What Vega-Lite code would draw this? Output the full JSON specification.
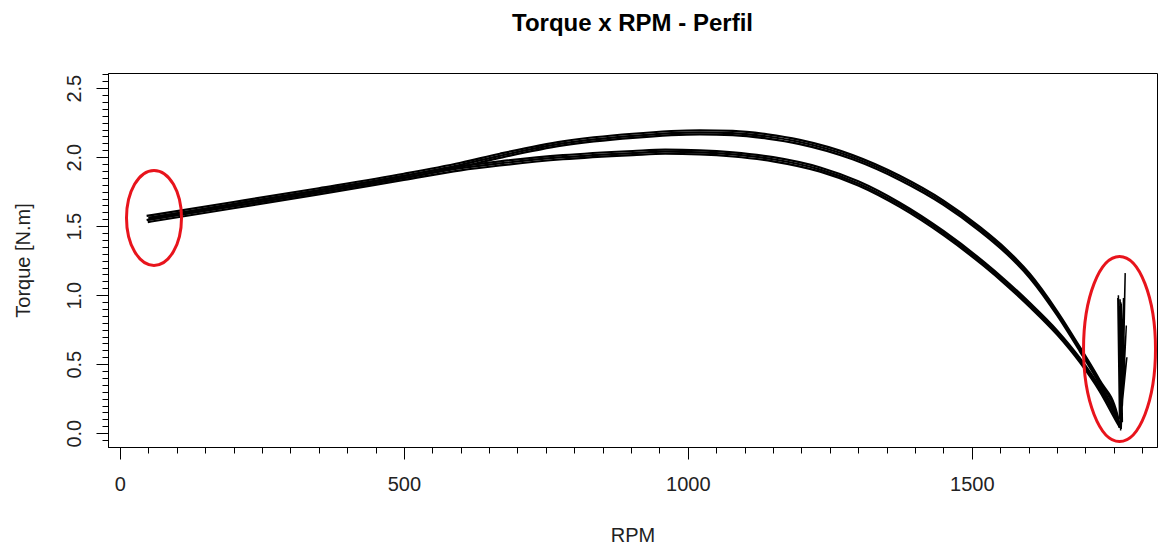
{
  "$schema": "https://vega.github.io/schema/vega-lite/v6.json",
  "width": 1049,
  "height": 374,
  "autosize": {"type": "none"},
  "padding": {"top": 73, "left": 108, "right": 2, "bottom": 100},
  "background": "white",
  "title": {"text": "Torque x RPM - Perfil", "font": "Liberation Sans", "fontSize": 24, "fontWeight": "bold", "color": "black", "anchor": "middle", "offset": 37},
  "config": {"view": {"stroke": "black", "strokeWidth": 1}},
  "datasets": {
    "runs": [
      {"s":"U1","rpm":47,"torque":1.575},{"s":"U1","rpm":200,"torque":1.675},{"s":"U1","rpm":350,"torque":1.775},{"s":"U1","rpm":500,"torque":1.88},{"s":"U1","rpm":600,"torque":1.96},{"s":"U1","rpm":669,"torque":2.025},{"s":"U1","rpm":780,"torque":2.115},{"s":"U1","rpm":903,"torque":2.17},{"s":"U1","rpm":1021,"torque":2.195},{"s":"U1","rpm":1079,"torque":2.19},{"s":"U1","rpm":1140,"torque":2.165},{"s":"U1","rpm":1197,"torque":2.125},{"s":"U1","rpm":1290,"torque":2.015},{"s":"U1","rpm":1373,"torque":1.865},{"s":"U1","rpm":1450,"torque":1.685},{"s":"U1","rpm":1514,"torque":1.495},{"s":"U1","rpm":1560,"torque":1.335},{"s":"U1","rpm":1602,"torque":1.155},{"s":"U1","rpm":1650,"torque":0.885},{"s":"U1","rpm":1690,"torque":0.625},{"s":"U1","rpm":1725,"torque":0.385},{"s":"U1","rpm":1756,"torque":0.135},{"s":"U1","rpm":1761,"torque":0.04},
      {"s":"U2","rpm":50,"torque":1.56},{"s":"U2","rpm":200,"torque":1.66},{"s":"U2","rpm":350,"torque":1.76},{"s":"U2","rpm":500,"torque":1.865},{"s":"U2","rpm":600,"torque":1.945},{"s":"U2","rpm":669,"torque":2.01},{"s":"U2","rpm":780,"torque":2.1},{"s":"U2","rpm":903,"torque":2.155},{"s":"U2","rpm":1021,"torque":2.18},{"s":"U2","rpm":1079,"torque":2.175},{"s":"U2","rpm":1140,"torque":2.15},{"s":"U2","rpm":1197,"torque":2.11},{"s":"U2","rpm":1290,"torque":2.0},{"s":"U2","rpm":1373,"torque":1.85},{"s":"U2","rpm":1450,"torque":1.67},{"s":"U2","rpm":1514,"torque":1.48},{"s":"U2","rpm":1560,"torque":1.32},{"s":"U2","rpm":1602,"torque":1.14},{"s":"U2","rpm":1650,"torque":0.87},{"s":"U2","rpm":1690,"torque":0.61},{"s":"U2","rpm":1725,"torque":0.37},{"s":"U2","rpm":1756,"torque":0.12},{"s":"U2","rpm":1761,"torque":0.04},
      {"s":"U3","rpm":48,"torque":1.545},{"s":"U3","rpm":200,"torque":1.645},{"s":"U3","rpm":350,"torque":1.745},{"s":"U3","rpm":500,"torque":1.85},{"s":"U3","rpm":600,"torque":1.93},{"s":"U3","rpm":669,"torque":1.995},{"s":"U3","rpm":780,"torque":2.085},{"s":"U3","rpm":903,"torque":2.14},{"s":"U3","rpm":1021,"torque":2.165},{"s":"U3","rpm":1079,"torque":2.16},{"s":"U3","rpm":1140,"torque":2.135},{"s":"U3","rpm":1197,"torque":2.095},{"s":"U3","rpm":1290,"torque":1.985},{"s":"U3","rpm":1373,"torque":1.835},{"s":"U3","rpm":1450,"torque":1.655},{"s":"U3","rpm":1514,"torque":1.465},{"s":"U3","rpm":1560,"torque":1.305},{"s":"U3","rpm":1602,"torque":1.125},{"s":"U3","rpm":1650,"torque":0.855},{"s":"U3","rpm":1690,"torque":0.595},{"s":"U3","rpm":1725,"torque":0.355},{"s":"U3","rpm":1756,"torque":0.105},{"s":"U3","rpm":1761,"torque":0.04},
      {"s":"L1","rpm":52,"torque":1.56},{"s":"L1","rpm":200,"torque":1.66},{"s":"L1","rpm":350,"torque":1.76},{"s":"L1","rpm":500,"torque":1.865},{"s":"L1","rpm":600,"torque":1.935},{"s":"L1","rpm":669,"torque":1.97},{"s":"L1","rpm":780,"torque":2.015},{"s":"L1","rpm":903,"torque":2.045},{"s":"L1","rpm":960,"torque":2.055},{"s":"L1","rpm":1021,"torque":2.05},{"s":"L1","rpm":1079,"torque":2.035},{"s":"L1","rpm":1150,"torque":2.0},{"s":"L1","rpm":1233,"torque":1.925},{"s":"L1","rpm":1300,"torque":1.825},{"s":"L1","rpm":1373,"torque":1.67},{"s":"L1","rpm":1450,"torque":1.465},{"s":"L1","rpm":1520,"torque":1.245},{"s":"L1","rpm":1560,"torque":1.105},{"s":"L1","rpm":1602,"torque":0.945},{"s":"L1","rpm":1650,"torque":0.745},{"s":"L1","rpm":1690,"torque":0.545},{"s":"L1","rpm":1725,"torque":0.335},{"s":"L1","rpm":1756,"torque":0.105},{"s":"L1","rpm":1761,"torque":0.04},
      {"s":"L2","rpm":47,"torque":1.545},{"s":"L2","rpm":200,"torque":1.645},{"s":"L2","rpm":350,"torque":1.745},{"s":"L2","rpm":500,"torque":1.85},{"s":"L2","rpm":600,"torque":1.92},{"s":"L2","rpm":669,"torque":1.955},{"s":"L2","rpm":780,"torque":2.0},{"s":"L2","rpm":903,"torque":2.03},{"s":"L2","rpm":960,"torque":2.04},{"s":"L2","rpm":1021,"torque":2.035},{"s":"L2","rpm":1079,"torque":2.02},{"s":"L2","rpm":1150,"torque":1.985},{"s":"L2","rpm":1233,"torque":1.91},{"s":"L2","rpm":1300,"torque":1.81},{"s":"L2","rpm":1373,"torque":1.655},{"s":"L2","rpm":1450,"torque":1.45},{"s":"L2","rpm":1520,"torque":1.23},{"s":"L2","rpm":1560,"torque":1.09},{"s":"L2","rpm":1602,"torque":0.93},{"s":"L2","rpm":1650,"torque":0.73},{"s":"L2","rpm":1690,"torque":0.53},{"s":"L2","rpm":1725,"torque":0.32},{"s":"L2","rpm":1756,"torque":0.09},{"s":"L2","rpm":1761,"torque":0.04},
      {"s":"L3","rpm":49,"torque":1.53},{"s":"L3","rpm":200,"torque":1.63},{"s":"L3","rpm":350,"torque":1.73},{"s":"L3","rpm":500,"torque":1.835},{"s":"L3","rpm":600,"torque":1.905},{"s":"L3","rpm":669,"torque":1.94},{"s":"L3","rpm":780,"torque":1.985},{"s":"L3","rpm":903,"torque":2.015},{"s":"L3","rpm":960,"torque":2.025},{"s":"L3","rpm":1021,"torque":2.02},{"s":"L3","rpm":1079,"torque":2.005},{"s":"L3","rpm":1150,"torque":1.97},{"s":"L3","rpm":1233,"torque":1.895},{"s":"L3","rpm":1300,"torque":1.795},{"s":"L3","rpm":1373,"torque":1.64},{"s":"L3","rpm":1450,"torque":1.435},{"s":"L3","rpm":1520,"torque":1.215},{"s":"L3","rpm":1560,"torque":1.075},{"s":"L3","rpm":1602,"torque":0.915},{"s":"L3","rpm":1650,"torque":0.715},{"s":"L3","rpm":1690,"torque":0.515},{"s":"L3","rpm":1725,"torque":0.305},{"s":"L3","rpm":1756,"torque":0.075},{"s":"L3","rpm":1761,"torque":0.04}
    ],
    "spike": [
      {"o":1,"rpm":1762,"torque":0.02},{"o":2,"rpm":1757,"torque":0.98},{"o":3,"rpm":1760,"torque":0.1},{"o":4,"rpm":1758,"torque":1.0},{"o":5,"rpm":1763,"torque":0.2},{"o":6,"rpm":1760,"torque":0.92},{"o":7,"rpm":1765,"torque":0.08},{"o":8,"rpm":1762,"torque":0.95},{"o":9,"rpm":1766,"torque":0.3},{"o":10,"rpm":1770,"torque":1.16},{"o":11,"rpm":1764,"torque":0.15},{"o":12,"rpm":1768,"torque":0.85},{"o":13,"rpm":1763,"torque":0.05},{"o":14,"rpm":1772,"torque":0.78},{"o":15,"rpm":1765,"torque":0.2},{"o":16,"rpm":1767,"torque":0.9},{"o":17,"rpm":1762,"torque":0.1},{"o":18,"rpm":1773,"torque":0.55},{"o":19,"rpm":1764,"torque":0.25},{"o":20,"rpm":1766,"torque":0.75},{"o":21,"rpm":1763,"torque":0.12},{"o":22,"rpm":1759,"torque":0.88},{"o":23,"rpm":1764,"torque":0.35},{"o":24,"rpm":1761,"torque":0.97},{"o":25,"rpm":1766,"torque":0.4},{"o":26,"rpm":1763,"torque":0.94},{"o":27,"rpm":1765,"torque":0.5},{"o":28,"rpm":1767,"torque":0.98},{"o":29,"rpm":1764,"torque":0.3},{"o":30,"rpm":1768,"torque":0.7},{"o":31,"rpm":1763,"torque":0.03}
    ],
    "notes": [
      {"id":"left","rpm":60,"torque":1.56},
      {"id":"right","rpm":1760,"torque":0.61}
    ]
  },
  "encoding": {
    "x": {
      "field": "rpm", "type": "quantitative",
      "scale": {"domain": [-21, 1826], "nice": false, "zero": false},
      "axis": {
        "title": "RPM",
        "values": [0,50,100,150,200,250,300,350,400,450,500,550,600,650,700,750,800,850,900,950,1000,1050,1100,1150,1200,1250,1300,1350,1400,1450,1500,1550,1600,1650,1700,1750,1800],
        "labelExpr": "datum.value % 500 === 0 ? '' + datum.value : ''",
        "tickSize": {"condition": {"test": "datum.value % 500 === 0", "value": 12}, "value": 6},
        "labelPadding": 15,
        "labelFont": "Liberation Sans", "labelFontSize": 20, "labelColor": "#222",
        "labelFlush": false, "labelOverlap": false, "labelBound": false,
        "titleFont": "Liberation Sans", "titleFontSize": 20, "titleFontWeight": "normal", "titleColor": "#222",
        "titlePadding": 31,
        "grid": false, "domainColor": "black", "tickColor": "black", "tickWidth": 1
      }
    },
    "y": {
      "field": "torque", "type": "quantitative",
      "scale": {"domain": [-0.1, 2.61], "nice": false, "zero": false},
      "axis": {
        "title": "Torque [N.m]",
        "values": [-0.05,0,0.05,0.1,0.15,0.2,0.25,0.3,0.35,0.4,0.45,0.5,0.55,0.6,0.65,0.7,0.75,0.8,0.85,0.9,0.95,1,1.05,1.1,1.15,1.2,1.25,1.3,1.35,1.4,1.45,1.5,1.55,1.6,1.65,1.7,1.75,1.8,1.85,1.9,1.95,2,2.05,2.1,2.15,2.2,2.25,2.3,2.35,2.4,2.45,2.5,2.55,2.6],
        "labelExpr": "abs(datum.value*2 - round(datum.value*2)) < 0.000001 ? format(datum.value, '.1f') : ''",
        "tickSize": {"condition": {"test": "abs(datum.value*2 - round(datum.value*2)) < 0.000001", "value": 12}, "value": 6},
        "labelAngle": 270, "labelAlign": "center", "labelBaseline": "bottom",
        "labelPadding": 12,
        "labelFont": "Liberation Sans", "labelFontSize": 20, "labelColor": "#222",
        "labelFlush": false, "labelOverlap": false, "labelBound": false,
        "titleFont": "Liberation Sans", "titleFontSize": 20, "titleFontWeight": "normal", "titleColor": "#222",
        "titlePadding": 31,
        "grid": false, "domainColor": "black", "tickColor": "black", "tickWidth": 1
      }
    }
  },
  "layer": [
    {
      "data": {"name": "runs"},
      "mark": {"type": "line", "color": "black", "strokeWidth": 2.2, "interpolate": "monotone"},
      "encoding": {"detail": {"field": "s", "type": "nominal"}}
    },
    {
      "data": {"name": "spike"},
      "mark": {"type": "line", "color": "black", "strokeWidth": 1.5},
      "encoding": {"order": {"field": "o", "type": "quantitative"}}
    },
    {
      "data": {"name": "notes"},
      "transform": [{"filter": "datum.id === 'left'"}],
      "mark": {"type": "point", "filled": false, "stroke": "#e8141c", "strokeWidth": 3, "opacity": 1, "size": 9025,
        "shape": "M0,-1C0.3198,-1 0.579,-0.5523 0.579,0C0.579,0.5523 0.3198,1 0,1C-0.3198,1 -0.579,0.5523 -0.579,0C-0.579,-0.5523 -0.3198,-1 0,-1Z"}
    },
    {
      "data": {"name": "notes"},
      "transform": [{"filter": "datum.id === 'right'"}],
      "mark": {"type": "point", "filled": false, "stroke": "#e8141c", "strokeWidth": 3, "opacity": 1, "size": 34225,
        "shape": "M0,-1C0.2149,-1 0.389,-0.5523 0.389,0C0.389,0.5523 0.2149,1 0,1C-0.2149,1 -0.389,0.5523 -0.389,0C-0.389,-0.5523 -0.2149,-1 0,-1Z"}
    }
  ]
}
